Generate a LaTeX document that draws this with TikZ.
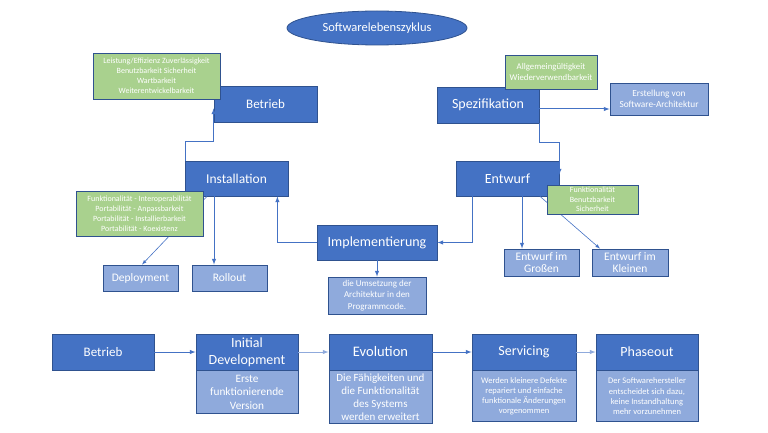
\documentclass[tikz,border=0pt]{standalone}
\usepackage{fontspec}
\setmainfont{Carlito}
\usepackage{tikz}
\usetikzlibrary{arrows,shapes}
\usetikzlibrary{positioning,calc}
\definecolor{phaseblue}{HTML}{4472C4}
\definecolor{edgeblue}{HTML}{2F528F}
\definecolor{paleblue}{HTML}{8FAADC}
\definecolor{qualgreen}{HTML}{A9D18E}
\newcommand{\fs}[2]{\fontsize{#1}{#2}\selectfont}
\tikzstyle{phase} = [draw=edgeblue, fill=phaseblue, text=white, rectangle,
    inner sep=1pt, align=center, line width=0.8pt]
\tikzstyle{detail} = [draw=edgeblue, fill=paleblue, text=white, rectangle,
    inner sep=1pt, align=center, line width=0.8pt]
\tikzstyle{quality} = [draw=edgeblue, fill=qualgreen, text=white, rectangle,
    inner sep=1pt, align=center, line width=0.8pt, font=\fs{8}{10}]
\tikzstyle{conn} = [draw=phaseblue, line width=1pt, -latex]

\begin{document}
\begin{tikzpicture}[x=1pt, y=-1pt]
  \useasboundingbox (0,0) rectangle (768,433);
  % Title
  \node [ellipse, draw=edgeblue, fill=phaseblue, text=white, minimum width=180pt,
    minimum height=34pt, inner sep=0pt, line width=0.8pt, font=\fs{12.5}{14}] (title) at (377,28)
  {Softwarelebenszyklus};
  % Place nodes
  \node [phase, minimum width=103pt, minimum height=36pt, font=\fs{13}{15}] (betr) at (265.5,104) {Betrieb};
  \node [phase, minimum width=102pt, minimum height=36pt, font=\fs{14}{16}] (spez) at (488,105) {Spezifikation};
  \node [detail, minimum width=98pt, minimum height=32pt, font=\fs{9.3}{11.5}] (arch) at (659,99)
  {Erstellung von\\Software-Architektur};
  \node [phase, minimum width=103pt, minimum height=35pt, font=\fs{13.5}{15}] (inst) at (236.5,178.5) {Installation};
  \node [phase, minimum width=103pt, minimum height=35pt, font=\fs{14}{16}] (entw) at (507.5,178.5) {Entwurf};
  \node [detail, minimum width=75pt, minimum height=26pt, font=\fs{11.5}{13}] (depl) at (140.5,278) {Deployment};
  \node [detail, minimum width=75pt, minimum height=26pt, font=\fs{11.5}{13}] (roll) at (229.5,278) {Rollout};
  \node [phase, minimum width=120pt, minimum height=35pt, font=\fs{14}{16}] (impl) at (377,242.5) {Implementierung};
  \node [detail, minimum width=98pt, minimum height=37pt, font=\fs{9}{11.5}] (ums) at (377,295.5)
  {die Umsetzung der\\Architektur in den\\Programmcode.};
  \node [detail, minimum width=75pt, minimum height=27pt, font=\fs{11.5}{12.5}] (gross) at (541.5,262.5)
  {Entwurf im\\Gro\ss en};
  \node [detail, minimum width=76pt, minimum height=27pt, font=\fs{11.5}{12.5}] (klein) at (630,262.5)
  {Entwurf im\\Kleinen};

  % Connectors
  \draw [conn] ([xshift=1pt]inst.north west) |- ([yshift=-19pt]betr.south west)
    -- ([yshift=14pt]betr.south west);
  \draw [conn] (spez.south east) -- ([yshift=-19pt]spez.south east)
    -| ([yshift=-14pt]entw.north east);
  \draw [conn] ([yshift=-4pt]spez.east) -- ([yshift=-10pt]arch.west);
  \draw [conn] ([xshift=-22.5pt]inst.south) -- ([xshift=-15.5pt]roll.north);
  \draw [conn, line width=0.6pt] ([xshift=-29.5pt]inst.south) -- ([xshift=1.5pt]depl.north);
  \draw [conn] (impl.west) -| ([xshift=-11pt]inst.south east);
  \draw [conn] ([xshift=-35.5pt]entw.south) |- (impl.east);
  \draw [conn] ([xshift=14.5pt]entw.south) -- ([xshift=-19.5pt]gross.north);
  \draw [conn, line width=0.6pt] ([xshift=32.5pt]entw.south) -- ([xshift=-30pt]klein.north);
  \draw [conn] (impl.south) -- (ums.north);

  % Quality notes
  \node [quality, minimum width=127pt, minimum height=46pt] (qbetr) at (156.5,76)
  {Leistung/Effizienz Zuverl\"assigkeit\\Benutzbarkeit Sicherheit\\Wartbarkeit\\Weiterentwickelbarkeit};
  \node [quality, minimum width=92pt, minimum height=34pt, font=\fs{8.8}{11}] (qspez) at (551,72)
  {Allgemeing\"ultigkeit\\Wiederverwendbarkeit};
  \node [quality, minimum width=127pt, minimum height=45pt] (qinst) at (139.5,213.5)
  {Funktionalit\"at - Interoperabilit\"at\\Portabilit\"at - Anpassbarkeit\\Portabilit\"at - Installierbarkeit\\Portabilit\"at - Koexistenz};
  \node [quality, minimum width=91pt, minimum height=29pt, font=\fs{8}{9.5}] (qentw) at (592.5,199.5)
  {Funktionalit\"at\\Benutzbarkeit\\Sicherheit};

  % Phases of the life cycle
  \node [phase, minimum width=102pt, minimum height=36pt, font=\fs{13}{15}] (betr2) at (103,352) {Betrieb};
  \node [phase, minimum width=102pt, minimum height=36pt, font=\fs{14}{17}] (init) at (247,352)
  {Initial\\Development};
  \node [detail, minimum width=102pt, minimum height=43pt, font=\fs{11.3}{13.7}, below=0pt of init] (initd)
  {Erste\\funktionierende\\Version};
  \node [phase, minimum width=103pt, minimum height=36pt, font=\fs{14.5}{16}] (evo) at (380.5,352) {Evolution};
  \node [detail, minimum width=103pt, minimum height=53pt, font=\fs{11}{13.2}, below=0pt of evo] (evod)
  {Die F\"ahigkeiten und\\die Funktionalit\"at\\des Systems\\werden erweitert};
  \node [phase, minimum width=104pt, minimum height=36pt, font=\fs{14}{16}] (serv) at (524,352) {Servicing};
  \node [detail, minimum width=104pt, minimum height=51pt, font=\fs{8.5}{10.2}, below=0pt of serv] (servd)
  {Werden kleinere Defekte\\repariert und einfache\\funktionale \"Anderungen\\vorgenommen};
  \node [phase, minimum width=102pt, minimum height=36pt, font=\fs{14}{16}] (phase) at (647,352) {Phaseout};
  \node [detail, minimum width=102pt, minimum height=51pt, font=\fs{8.5}{10.2}, below=0pt of phase] (phased)
  {Der Softwarehersteller\\entscheidet sich dazu,\\keine Instandhaltung\\mehr vorzunehmen};

  \draw [conn] (betr2) -- (init);
  \draw [conn, draw=paleblue] (init) -- (evo);
  \draw [conn] (evo) -- (serv);
  \draw [conn, draw=paleblue] (serv) -- (phase);
\end{tikzpicture}
\end{document}
